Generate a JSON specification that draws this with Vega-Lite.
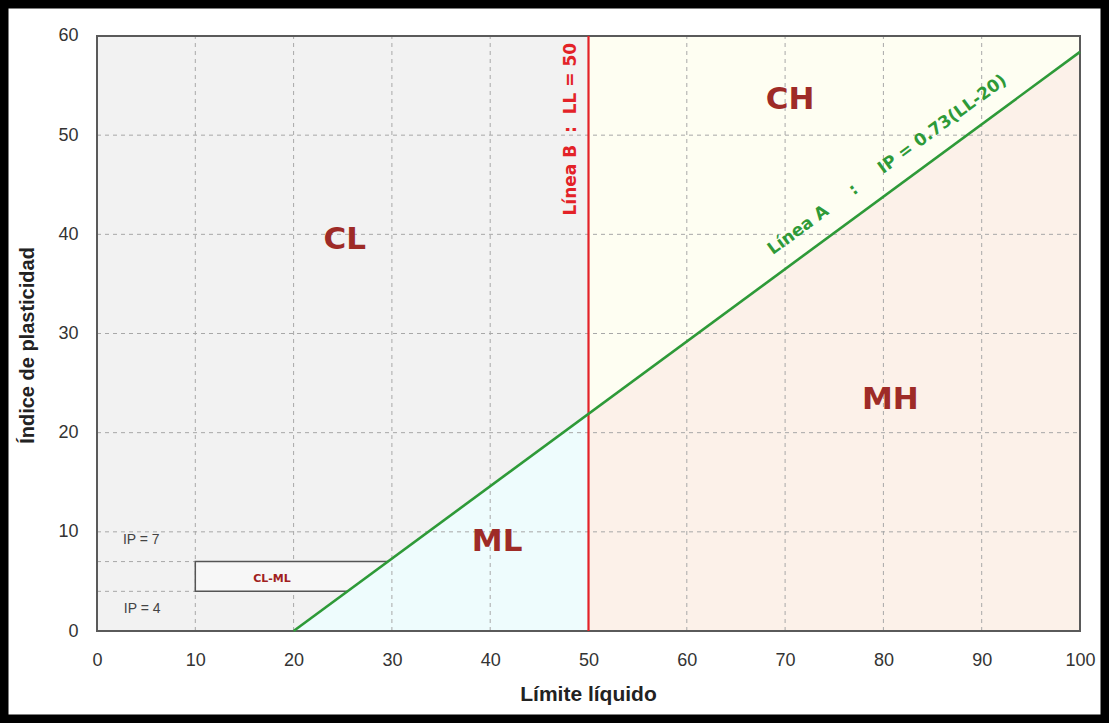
{
  "$schema": "https://vega.github.io/schema/vega-lite/v6.json",
  "width": 1109,
  "height": 723,
  "autosize": {"type": "none"},
  "padding": 0,
  "background": "white",
  "config": {
    "view": {"stroke": "black", "strokeWidth": 17, "fill": "white"},
    "axisX": {"domain": false, "ticks": false, "grid": false, "offset": -92, "labelPadding": 20, "labelFontSize": 18, "labelColor": "#333333", "labelFont": "Liberation Sans", "labelFlush": false, "titleFont": "Liberation Sans", "titleFontSize": 21, "titleFontWeight": "bold", "titleColor": "#222222", "titleX": 588, "titleY": 63, "titleBaseline": "middle"},
    "axisY": {"domain": false, "ticks": false, "grid": false, "offset": -97, "labelPadding": 19, "labelFontSize": 18, "labelColor": "#333333", "labelFont": "Liberation Sans", "labelFlush": false, "titleFont": "Liberation Sans", "titleFontSize": 20, "titleFontWeight": "bold", "titleColor": "#222222", "titleX": -70, "titleY": 345, "titleBaseline": "middle", "titleAngle": -90}
  },
  "datasets": {
    "regions": [
      {"r": "CL", "x": 0, "y": 0, "y2": 60},
      {"r": "CL", "x": 20, "y": 0, "y2": 60},
      {"r": "CL", "x": 50, "y": 21.9, "y2": 60},
      {"r": "ML", "x": 20, "y": 0, "y2": 0},
      {"r": "ML", "x": 50, "y": 0, "y2": 21.9},
      {"r": "CH", "x": 50, "y": 21.9, "y2": 60},
      {"r": "CH", "x": 100, "y": 58.4, "y2": 60},
      {"r": "MH", "x": 50, "y": 0, "y2": 21.9},
      {"r": "MH", "x": 100, "y": 0, "y2": 58.4}
    ],
    "vgrid": [{"x": 10}, {"x": 20}, {"x": 30}, {"x": 40}, {"x": 50}, {"x": 60}, {"x": 70}, {"x": 80}, {"x": 90}],
    "hgrid": [{"y": 10, "x": 0, "x2": 100}, {"y": 20, "x": 0, "x2": 100}, {"y": 30, "x": 0, "x2": 100}, {"y": 40, "x": 0, "x2": 100}, {"y": 50, "x": 0, "x2": 100}, {"y": 4, "x": 0, "x2": 10}, {"y": 7, "x": 0, "x2": 10}],
    "box": [{"x": 10, "y": 4, "y2": 7}, {"x": 25.48, "y": 4, "y2": 7}, {"x": 29.59, "y": 7, "y2": 7}],
    "boxline": [{"x": 29.59, "y": 7, "o": 1}, {"x": 10, "y": 7, "o": 2}, {"x": 10, "y": 4, "o": 3}, {"x": 25.48, "y": 4, "o": 4}],
    "frame": [{"x": 0, "x2": 100, "y": 0, "y2": 60}],
    "lineB": [{"x": 50, "y": 0, "y2": 60}],
    "lineA": [{"x": 20, "y": 0}, {"x": 100, "y": 58.4}],
    "zones": [
      {"t": "CL", "x": 25.2, "y": 39.4},
      {"t": "CH", "x": 70.5, "y": 53.5},
      {"t": "MH", "x": 80.7, "y": 23.3},
      {"t": "ML", "x": 40.7, "y": 9.0}
    ],
    "ip": [{"t": "IP = 7", "x": 4.5, "y": 9.2}, {"t": "IP = 4", "x": 4.6, "y": 2.2}],
    "clml": [{"t": "CL-ML", "x": 17.8, "y": 5.2}],
    "labB": [{"t": "Línea B\u00a0\u00a0:\u00a0\u00a0LL = 50", "x": 48.2, "y": 50.6}],
    "labA": [{"t": "Línea A\u00a0\u00a0\u00a0\u00a0\u00a0:\u00a0\u00a0\u00a0\u00a0\u00a0IP = 0.73(LL-20)", "x": 80.4, "y": 47.0}]
  },
  "layer": [
    {
      "data": {"name": "regions"},
      "mark": {"type": "area", "orient": "vertical"},
      "encoding": {
        "x": {"field": "x", "type": "quantitative", "scale": {"domain": [-9.868, 102.95], "nice": false, "zero": false}, "title": "Límite líquido", "axis": {"values": [0, 10, 20, 30, 40, 50, 60, 70, 80, 90, 100]}},
        "y": {"field": "y", "type": "quantitative", "scale": {"domain": [-9.277, 63.63], "nice": false, "zero": false}, "title": "Índice de plasticidad", "axis": {"values": [0, 10, 20, 30, 40, 50, 60]}},
        "y2": {"field": "y2"},
        "detail": {"field": "r"},
        "color": {"field": "r", "type": "nominal", "scale": {"domain": ["CL", "ML", "CH", "MH"], "range": ["#f2f2f2", "#eefcfd", "#fefef2", "#fcf1e9"]}, "legend": null}
      }
    },
    {
      "data": {"name": "vgrid"},
      "mark": {"type": "rule", "color": "#a8a8a8", "strokeDash": [4, 4], "strokeWidth": 1},
      "encoding": {
        "x": {"field": "x", "type": "quantitative", "scale": {"domain": [-9.868, 102.95], "nice": false, "zero": false}},
        "y": {"datum": 0, "scale": {"domain": [-9.277, 63.63], "nice": false, "zero": false}},
        "y2": {"datum": 60}
      }
    },
    {
      "data": {"name": "hgrid"},
      "mark": {"type": "rule", "color": "#a8a8a8", "strokeDash": [4, 4], "strokeWidth": 1},
      "encoding": {
        "x": {"field": "x", "type": "quantitative", "scale": {"domain": [-9.868, 102.95], "nice": false, "zero": false}},
        "x2": {"field": "x2"},
        "y": {"field": "y", "type": "quantitative", "scale": {"domain": [-9.277, 63.63], "nice": false, "zero": false}}
      }
    },
    {
      "data": {"name": "box"},
      "mark": {"type": "area", "orient": "vertical", "color": "#f7f7f7"},
      "encoding": {
        "x": {"field": "x", "type": "quantitative", "scale": {"domain": [-9.868, 102.95], "nice": false, "zero": false}},
        "y": {"field": "y", "type": "quantitative", "scale": {"domain": [-9.277, 63.63], "nice": false, "zero": false}},
        "y2": {"field": "y2"}
      }
    },
    {
      "data": {"name": "boxline"},
      "mark": {"type": "line", "color": "#555555", "strokeWidth": 1.5},
      "encoding": {
        "x": {"field": "x", "type": "quantitative", "scale": {"domain": [-9.868, 102.95], "nice": false, "zero": false}},
        "y": {"field": "y", "type": "quantitative", "scale": {"domain": [-9.277, 63.63], "nice": false, "zero": false}},
        "order": {"field": "o"}
      }
    },
    {
      "data": {"name": "frame"},
      "mark": {"type": "rect", "filled": false, "stroke": "#5a5a5a", "strokeWidth": 2},
      "encoding": {
        "x": {"field": "x", "type": "quantitative", "scale": {"domain": [-9.868, 102.95], "nice": false, "zero": false}},
        "x2": {"field": "x2"},
        "y": {"field": "y", "type": "quantitative", "scale": {"domain": [-9.277, 63.63], "nice": false, "zero": false}},
        "y2": {"field": "y2"}
      }
    },
    {
      "data": {"name": "lineB"},
      "mark": {"type": "rule", "color": "#e32228", "strokeWidth": 2.2},
      "encoding": {
        "x": {"field": "x", "type": "quantitative", "scale": {"domain": [-9.868, 102.95], "nice": false, "zero": false}},
        "y": {"field": "y", "type": "quantitative", "scale": {"domain": [-9.277, 63.63], "nice": false, "zero": false}},
        "y2": {"field": "y2"}
      }
    },
    {
      "data": {"name": "lineA"},
      "mark": {"type": "line", "color": "#2e9a38", "strokeWidth": 2.6},
      "encoding": {
        "x": {"field": "x", "type": "quantitative", "scale": {"domain": [-9.868, 102.95], "nice": false, "zero": false}},
        "y": {"field": "y", "type": "quantitative", "scale": {"domain": [-9.277, 63.63], "nice": false, "zero": false}}
      }
    },
    {
      "data": {"name": "zones"},
      "mark": {"type": "text", "font": "DejaVu Sans", "fontSize": 31, "fontWeight": "bold", "color": "#9e2b27", "align": "center", "baseline": "middle"},
      "encoding": {
        "x": {"field": "x", "type": "quantitative", "scale": {"domain": [-9.868, 102.95], "nice": false, "zero": false}},
        "y": {"field": "y", "type": "quantitative", "scale": {"domain": [-9.277, 63.63], "nice": false, "zero": false}},
        "text": {"field": "t"}
      }
    },
    {
      "data": {"name": "ip"},
      "mark": {"type": "text", "font": "Liberation Sans", "fontSize": 14, "color": "#444444", "align": "center", "baseline": "middle"},
      "encoding": {
        "x": {"field": "x", "type": "quantitative", "scale": {"domain": [-9.868, 102.95], "nice": false, "zero": false}},
        "y": {"field": "y", "type": "quantitative", "scale": {"domain": [-9.277, 63.63], "nice": false, "zero": false}},
        "text": {"field": "t"}
      }
    },
    {
      "data": {"name": "clml"},
      "mark": {"type": "text", "font": "DejaVu Sans", "fontSize": 11, "fontWeight": "bold", "color": "#a02020", "align": "center", "baseline": "middle"},
      "encoding": {
        "x": {"field": "x", "type": "quantitative", "scale": {"domain": [-9.868, 102.95], "nice": false, "zero": false}},
        "y": {"field": "y", "type": "quantitative", "scale": {"domain": [-9.277, 63.63], "nice": false, "zero": false}},
        "text": {"field": "t"}
      }
    },
    {
      "data": {"name": "labB"},
      "mark": {"type": "text", "font": "DejaVu Sans", "fontSize": 17, "fontWeight": "bold", "color": "#e32228", "align": "center", "baseline": "middle", "angle": -90},
      "encoding": {
        "x": {"field": "x", "type": "quantitative", "scale": {"domain": [-9.868, 102.95], "nice": false, "zero": false}},
        "y": {"field": "y", "type": "quantitative", "scale": {"domain": [-9.277, 63.63], "nice": false, "zero": false}},
        "text": {"field": "t"}
      }
    },
    {
      "data": {"name": "labA"},
      "mark": {"type": "text", "font": "DejaVu Sans", "fontSize": 17, "fontWeight": "bold", "color": "#2e9a38", "align": "center", "baseline": "middle", "angle": -36.3},
      "encoding": {
        "x": {"field": "x", "type": "quantitative", "scale": {"domain": [-9.868, 102.95], "nice": false, "zero": false}},
        "y": {"field": "y", "type": "quantitative", "scale": {"domain": [-9.277, 63.63], "nice": false, "zero": false}},
        "text": {"field": "t"}
      }
    }
  ]
}
